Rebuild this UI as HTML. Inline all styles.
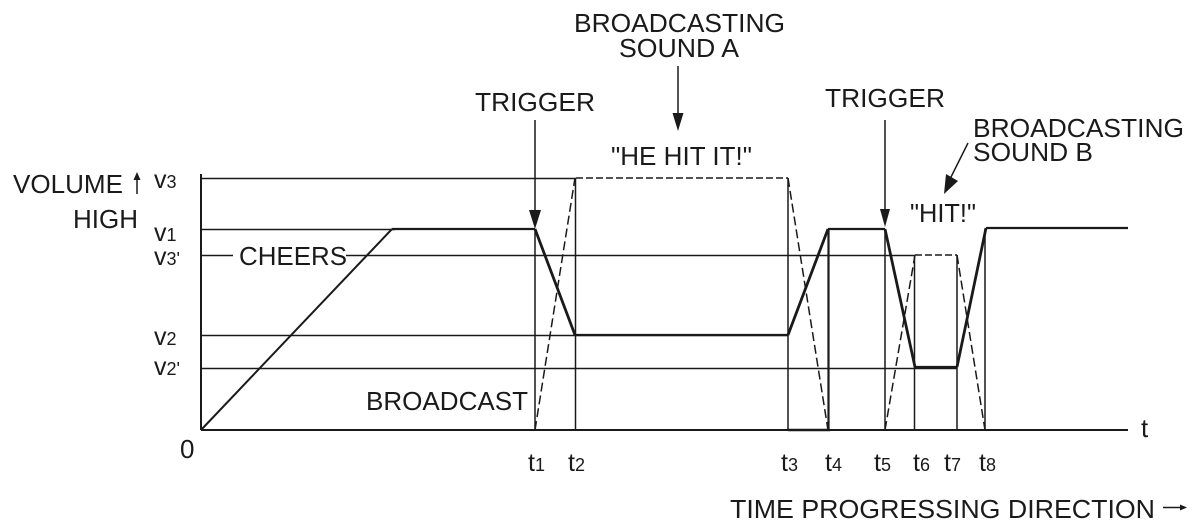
<!DOCTYPE html>
<html>
<head>
<meta charset="utf-8">
<style>
html,body{margin:0;padding:0;background:#fff;width:1200px;height:531px;overflow:hidden}
svg{display:block}
text{font-family:"Liberation Sans",sans-serif;fill:#1a1a1a}
.l{font-size:26px}
.v{font-size:25px}
.v tspan{font-size:18px}
.t{font-size:25px}
.t tspan{font-size:18px}
</style>
</head>
<body>
<svg width="1200" height="531" viewBox="0 0 1200 531" xmlns="http://www.w3.org/2000/svg">
<g fill="none" stroke="#1a1a1a">
  <!-- axes -->
  <path d="M201 174V430" stroke-width="2"/>
  <path d="M201 430H1128" stroke-width="2"/>
  <path d="M788 430H830" stroke-width="2.500"/>
  <!-- level lines -->
  <path d="M201 178.500H576" stroke-width="1.500"/>
  <path d="M201 229.500H395" stroke-width="1.500"/>
  <path d="M201 255.500H233M346 255.500H915" stroke-width="1.500"/>
  <path d="M201 335.500H788" stroke-width="1.500"/>
  <path d="M201 368.500H957" stroke-width="1.500"/>
  <!-- vertical time lines -->
  <path d="M535 229V430M575.500 178V430M788 178V430M885 229V430M914.500 255V430M957 255V430M985 229V430" stroke-width="1.500"/>
  <path d="M828.500 229V430" stroke-width="2.200"/>
  <!-- volume trace (cheers) -->
  <path d="M201 430L392 229" stroke-width="2"/>
  <path d="M392 229H535M575 335H788M828 229H885M915 367H957M986 228H1128" stroke-width="2.200"/>
  <path d="M535 229L575 335M788 335L828 229M885 229L915 367M957 367L986 228" stroke-width="2.800"/>
  <!-- dashed trace (broadcast) -->
  <path d="M535 430L575 178" stroke-width="1.500" stroke-dasharray="9 4"/>
  <path d="M576 178H788" stroke-width="1.500" stroke-dasharray="7 3"/>
  <path d="M788 178L828 430" stroke-width="1.500" stroke-dasharray="9 4"/>
  <path d="M885 430L915 255" stroke-width="1.500" stroke-dasharray="9 4"/>
  <path d="M915 255H957" stroke-width="1.500" stroke-dasharray="7 3"/>
  <path d="M957 255L985 430" stroke-width="1.500" stroke-dasharray="9 4"/>
  <!-- arrows -->
  <path d="M535 120V212M678 66V116M885 120V212" stroke-width="1.500"/>
  <path d="M968 143L950 179" stroke-width="1.500"/>
  <path d="M137 178V194" stroke-width="1.500"/>
</g>
<g fill="#1a1a1a" stroke="none">
  <path d="M529 210H541L535 229Z"/>
  <path d="M672.500 113H683.500L678 131Z"/>
  <path d="M880 209H890L885 227Z"/>
  <path d="M946 174L958 181L944 194Z"/>
  <path d="M137 172L133.500 180H140.500Z"/>
</g>
<!-- labels -->
<text class="l" x="574" y="32" textLength="211" lengthAdjust="spacingAndGlyphs">BROADCASTING</text>
<text class="l" x="619" y="57" textLength="120" lengthAdjust="spacingAndGlyphs">SOUND A</text>
<text class="l" x="475" y="111" textLength="120" lengthAdjust="spacingAndGlyphs">TRIGGER</text>
<text class="l" x="825" y="107" textLength="120" lengthAdjust="spacingAndGlyphs">TRIGGER</text>
<text class="l" x="973" y="137" textLength="211" lengthAdjust="spacingAndGlyphs">BROADCASTING</text>
<text class="l" x="973" y="161" textLength="120" lengthAdjust="spacingAndGlyphs">SOUND B</text>
<text class="l" x="611" y="165" textLength="141" lengthAdjust="spacingAndGlyphs">"HE HIT IT!"</text>
<text class="l" x="910" y="222" textLength="66" lengthAdjust="spacingAndGlyphs">"HIT!"</text>
<text class="l" x="13" y="193" textLength="110" lengthAdjust="spacingAndGlyphs">VOLUME</text>
<text class="l" x="73" y="228" textLength="65" lengthAdjust="spacingAndGlyphs">HIGH</text>
<text class="l" x="239" y="265" textLength="108" lengthAdjust="spacingAndGlyphs">CHEERS</text>
<text class="l" x="366" y="410" textLength="162" lengthAdjust="spacingAndGlyphs">BROADCAST</text>
<text class="l" x="180" y="458">0</text>
<text class="l" x="1141" y="437">t</text>
<text class="l" x="730" y="518" textLength="425" lengthAdjust="spacingAndGlyphs">TIME PROGRESSING DIRECTION</text>
<path d="M1163 507.500H1184" fill="none" stroke="#1a1a1a" stroke-width="1.500"/>
<path d="M1187 507.500L1180 504.500V510.500Z" fill="#1a1a1a"/>
<text class="v" x="154" y="188">v<tspan>3</tspan></text>
<text class="v" x="154" y="241">v<tspan>1</tspan></text>
<text class="v" x="154" y="265">v<tspan>3'</tspan></text>
<text class="v" x="154" y="345">v<tspan>2</tspan></text>
<text class="v" x="154" y="375">v<tspan>2'</tspan></text>
<text class="t" x="528" y="471">t<tspan>1</tspan></text>
<text class="t" x="568" y="471">t<tspan>2</tspan></text>
<text class="t" x="781" y="471">t<tspan>3</tspan></text>
<text class="t" x="825" y="471">t<tspan>4</tspan></text>
<text class="t" x="874" y="471">t<tspan>5</tspan></text>
<text class="t" x="913" y="471">t<tspan>6</tspan></text>
<text class="t" x="944" y="471">t<tspan>7</tspan></text>
<text class="t" x="979" y="471">t<tspan>8</tspan></text>
</svg>
</body>
</html>
